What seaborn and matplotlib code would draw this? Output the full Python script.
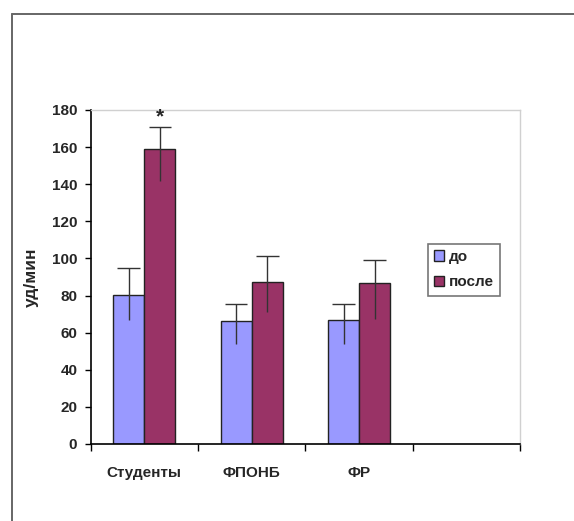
import matplotlib
matplotlib.use("Agg")
import matplotlib.pyplot as plt
import seaborn as sns
import pandas as pd
from matplotlib.lines import Line2D

# -----------------------------
# DATA
# -----------------------------
categories = ["Студенты", "ФПОНБ", "ФР"]
series = ["до", "после"]
before_vals = [80.5, 66.5, 67.0]
after_vals = [158.8, 87.4, 86.9]
before_err_lo = [13.5, 12.5, 13.0]
before_err_hi = [14.2, 8.7, 8.2]
after_err_lo = [17.2, 16.0, 19.4]
after_err_hi = [11.9, 13.8, 12.0]

colors = {"до": "#9999FF", "после": "#993366"}

df = pd.DataFrame({
    "group": categories * 2,
    "series": ["до"] * 3 + ["после"] * 3,
    "value": before_vals + after_vals,
})

# -----------------------------
# PLOT
# -----------------------------
sns.set_theme(style="white")
plt.rcParams["font.family"] = ["Liberation Sans", "DejaVu Sans"]

fig = plt.figure(figsize=(5.74, 5.21), dpi=100)
ax = fig.add_axes([0.1577, 0.1478, 0.7489, 0.6411])

sns.barplot(data=df, x="group", y="value", hue="series", order=categories,
            hue_order=series, palette=colors, width=0.58, errorbar=None,
            edgecolor="#222222", linewidth=1, saturation=1, ax=ax)

# error bars: line through the bar, cap only on top
errs = [(before_err_lo, before_err_hi), (after_err_lo, after_err_hi)]
for cont, (lo, hi) in zip(ax.containers, errs):
    xs = [p.get_x() + p.get_width() / 2 for p in cont.patches]
    ys = [p.get_height() for p in cont.patches]
    bottoms = [y - e for y, e in zip(ys, lo)]
    tops = [y + e for y, e in zip(ys, hi)]
    ax.vlines(xs, bottoms, tops, colors="#333333", linewidth=1, zorder=5)
    ax.hlines(tops, [x - 0.105 for x in xs], [x + 0.105 for x in xs],
              colors="#333333", linewidth=1, zorder=5)

# significance mark
star_bar = ax.containers[1].patches[0]
ax.text(star_bar.get_x() + star_bar.get_width() / 2, 176.5, "*",
        ha="center", va="center", fontsize=15, fontweight="bold")

# axes
ax.set_xlim(-0.5, 3.5)
ax.set_ylim(0, 180)
ax.set_yticks(range(0, 181, 20))
ax.tick_params(axis="y", which="major", left=True, length=4, width=1,
               color="black", labelsize=11, pad=5.5)
for t in ax.get_yticklabels():
    t.set_fontweight("bold")

ax.set_xticks([0, 1, 2, 3])
ax.set_xticklabels(categories + [""])
ax.set_xticks([-0.5, 0.5, 1.5, 2.5, 3.5], minor=True)
ax.tick_params(axis="x", which="major", length=0, labelsize=11, pad=16)
ax.tick_params(axis="x", which="minor", bottom=True, length=5, width=1,
               color="black", direction="out")
for t in ax.get_xticklabels():
    t.set_fontweight("bold")

ax.set_xlabel("")
ax.set_ylabel("уд/мин", fontsize=12.5, fontweight="bold")
ax.yaxis.set_label_coords(-0.12, 0.5)

for s in ["left", "bottom"]:
    ax.spines[s].set_color("black")
    ax.spines[s].set_linewidth(1.2)
for s in ["top", "right"]:
    ax.spines[s].set_color("#d0d0d0")
    ax.spines[s].set_linewidth(1)

leg = ax.legend(loc="upper left", bbox_to_anchor=(0.784, 0.599),
                frameon=True, fancybox=False, edgecolor="#555555",
                fontsize=11, handlelength=0.7, handleheight=0.7,
                handletextpad=0.3, borderpad=0.4, labelspacing=0.75,
                borderaxespad=0)
leg.get_frame().set_linewidth(1.2)
for t in leg.get_texts():
    t.set_fontweight("bold")

# outer frame
fig.add_artist(Line2D([0.021, 1.0], [0.974, 0.974], transform=fig.transFigure,
                      color="#666666", lw=1.4))
fig.add_artist(Line2D([0.021, 0.021], [0.0, 0.974], transform=fig.transFigure,
                      color="#666666", lw=1.4))

fig.savefig("out.png", dpi=100)
